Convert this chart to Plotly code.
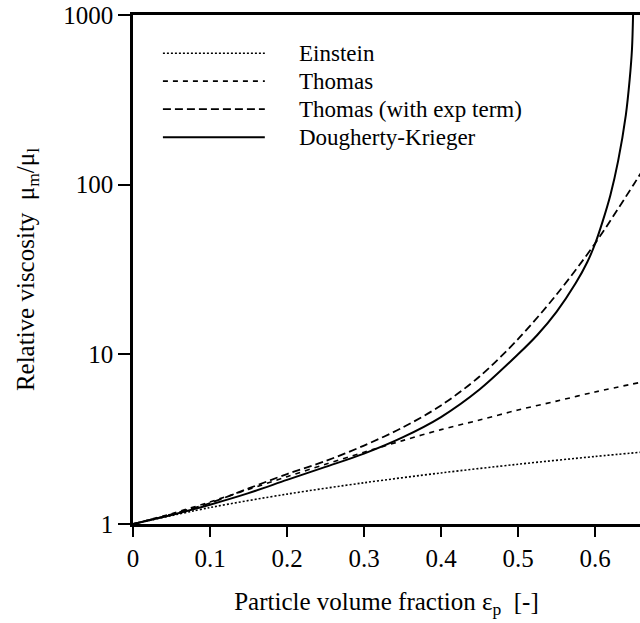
import plotly.graph_objects as go

# ---- data ----
x_einstein = [0.0, 0.1, 0.2, 0.3, 0.4, 0.5, 0.6, 0.66]
y_einstein = [1.0, 1.25, 1.5, 1.75, 2.0, 2.25, 2.5, 2.65]

x_thomas = [0.0, 0.05, 0.1, 0.15, 0.2, 0.25, 0.3, 0.35, 0.4, 0.45, 0.5, 0.55, 0.6, 0.66]
y_thomas = [1.0, 1.15, 1.35, 1.6, 1.9, 2.25, 2.65, 3.1, 3.6, 4.1, 4.7, 5.3, 6.0, 6.85]

x_thomas_exp = [0.0, 0.05, 0.1, 0.15, 0.2, 0.25, 0.3, 0.35, 0.4, 0.45, 0.5, 0.55, 0.6, 0.65, 0.66]
y_thomas_exp = [1.0, 1.14, 1.33, 1.62, 1.97, 2.35, 2.9, 3.7, 5.0, 7.4, 12.3, 22.5, 45.0, 100.0, 118.0]

x_dk = [0.0, 0.05, 0.1, 0.15, 0.2, 0.25, 0.3, 0.35, 0.4, 0.45, 0.5, 0.525, 0.55,
        0.575, 0.59, 0.6, 0.61, 0.62, 0.63, 0.64, 0.645, 0.648, 0.6495]
y_dk = [1.0, 1.13, 1.3, 1.52, 1.82, 2.17, 2.6, 3.24, 4.27, 6.2, 10.0, 13.0, 17.8,
        26.3, 35.0, 44.7, 61.0, 87.0, 138.0, 257.0, 417.0, 630.0, 1050.0]

series_names = ["Einstein", "Thomas", "Thomas (with exp term)", "Dougherty-Krieger"]
series_dash = ["2px,2px", "5px,5px", "8px,4px", "solid"]
series_width = [1.6, 1.6, 1.8, 2.0]

x_tickvals = [0, 0.1, 0.2, 0.3, 0.4, 0.5, 0.6]
x_ticktext = ["0", "0.1", "0.2", "0.3", "0.4", "0.5", "0.6"]
y_tickvals = [1, 10, 100, 1000]
y_ticktext = ["1", "10", "100", "1000"]

FONT = "Liberation Serif, Times New Roman, serif"

fig = go.Figure()
xs = [x_einstein, x_thomas, x_thomas_exp, x_dk]
ys = [y_einstein, y_thomas, y_thomas_exp, y_dk]
for xv, yv, nm, dsh, w in zip(xs, ys, series_names, series_dash, series_width):
    fig.add_trace(go.Scatter(x=xv, y=yv, mode="lines", name=nm,
                             line=dict(color="black", width=w, dash=dsh, shape="spline", smoothing=0.9),
                             showlegend=False))

# legend drawn with long line samples, as in the reference
leg_y = [0.925, 0.870, 0.815, 0.760]
for nm, dsh, w, ly in zip(series_names, series_dash, series_width, leg_y):
    fig.add_shape(type="line", xref="paper", yref="paper", x0=0.059, x1=0.26, y0=ly, y1=ly,
                  line=dict(color="black", width=w, dash=dsh))
    fig.add_annotation(xref="paper", yref="paper", x=0.323, y=ly, text=nm, showarrow=False,
                       xanchor="left", yanchor="middle", font=dict(family=FONT, size=23, color="black"))

fig.update_layout(
    width=640, height=623,
    margin=dict(l=133, r=0, t=15, b=99),
    paper_bgcolor="white", plot_bgcolor="white",
    font=dict(family=FONT, size=23, color="black"),
)
fig.update_xaxes(range=[0, 0.6584], tickvals=x_tickvals, ticktext=x_ticktext,
                 ticks="outside", ticklen=10, tickwidth=2, tickcolor="black",
                 showline=True, linewidth=2.5, linecolor="black", mirror=True,
                 showgrid=False, zeroline=False,
                 tickfont=dict(family=FONT, size=25, color="black"),
                 title=dict(text="Particle volume fraction ε<sub>p</sub>  [-]", standoff=22,
                            font=dict(family=FONT, size=25)))
fig.update_yaxes(type="log", range=[0, 3], tickvals=y_tickvals, ticktext=y_ticktext,
                 ticks="outside", ticklen=12, tickwidth=2, tickcolor="black",
                 showline=True, linewidth=2.5, linecolor="black",
                 showgrid=False, zeroline=False,
                 tickfont=dict(family=FONT, size=25, color="black"),
                 title=dict(text="Relative viscosity  μ<sub>m</sub>/μ<sub>l</sub>", standoff=22,
                            font=dict(family=FONT, size=25)))

fig.write_html("out.html")
